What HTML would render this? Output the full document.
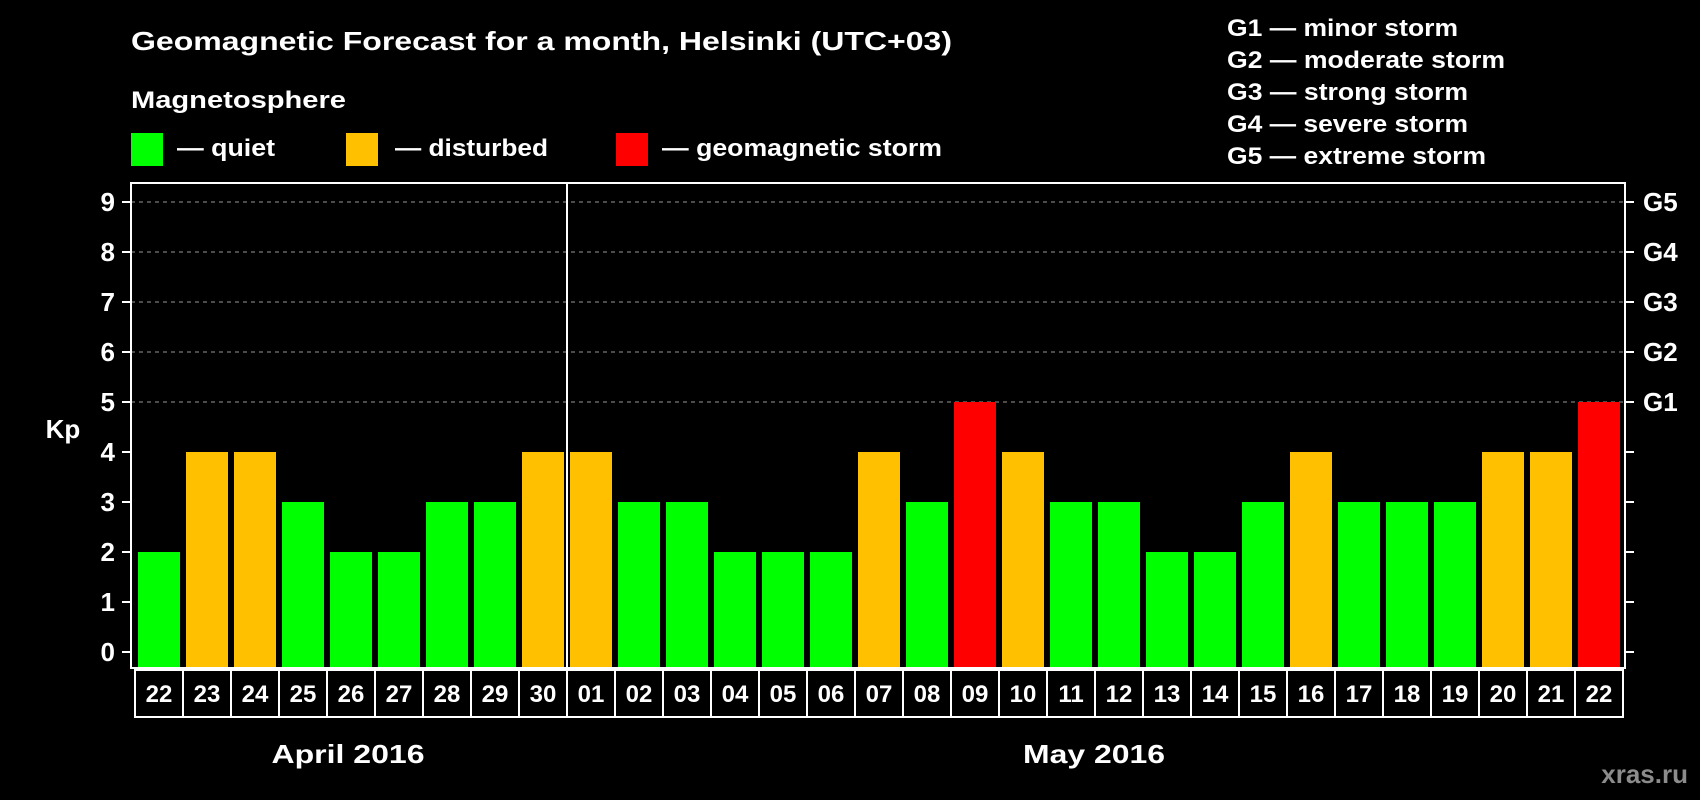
<!DOCTYPE html>
<html><head><meta charset="utf-8"><style>
html,body{margin:0;padding:0;background:#000;}
svg{display:block;font-family:"Liberation Sans",Arial,sans-serif;font-weight:bold;}
</style></head><body>
<svg id="chart" width="1700" height="800" viewBox="0 0 1700 800">
<rect width="1700" height="800" fill="#000"/>
<text x="131" y="50" fill="#fff" font-size="26" textLength="821" lengthAdjust="spacingAndGlyphs">Geomagnetic Forecast for a month, Helsinki (UTC+03)</text>
<text x="131" y="108" fill="#fff" font-size="24" textLength="215" lengthAdjust="spacingAndGlyphs">Magnetosphere</text>
<g><rect x="131" y="133" width="32" height="33" fill="#00ff00"/><text x="177" y="156" fill="#fff" font-size="24" textLength="98" lengthAdjust="spacingAndGlyphs">— quiet</text></g>
<g><rect x="346" y="133" width="32" height="33" fill="#ffc000"/><text x="395" y="156" fill="#fff" font-size="24" textLength="153" lengthAdjust="spacingAndGlyphs">— disturbed</text></g>
<g><rect x="616" y="133" width="32" height="33" fill="#ff0000"/><text x="662" y="156" fill="#fff" font-size="24" textLength="280" lengthAdjust="spacingAndGlyphs">— geomagnetic storm</text></g>
<g fill="#fff" font-size="24">
<text x="1227" y="36" textLength="231" lengthAdjust="spacingAndGlyphs">G1 — minor storm</text>
<text x="1227" y="68" textLength="278" lengthAdjust="spacingAndGlyphs">G2 — moderate storm</text>
<text x="1227" y="100" textLength="241" lengthAdjust="spacingAndGlyphs">G3 — strong storm</text>
<text x="1227" y="132" textLength="241" lengthAdjust="spacingAndGlyphs">G4 — severe storm</text>
<text x="1227" y="164" textLength="259" lengthAdjust="spacingAndGlyphs">G5 — extreme storm</text>
</g>
<text x="63" y="438" fill="#fff" font-size="26" text-anchor="middle">Kp</text>
<text x="348" y="763" fill="#fff" font-size="26" text-anchor="middle" textLength="153" lengthAdjust="spacingAndGlyphs">April 2016</text>
<text x="1094" y="763" fill="#fff" font-size="26" text-anchor="middle" textLength="142" lengthAdjust="spacingAndGlyphs">May 2016</text>
<text x="1688" y="783" fill="#8c8c8c" font-size="26" text-anchor="end">xras.ru</text>
<g id="grid"></g><g id="bars"></g><g id="axes"></g><g id="labels"></g>
</svg>
<script>
const days = ["22","23","24","25","26","27","28","29","30","01","02","03","04","05","06","07","08","09","10","11","12","13","14","15","16","17","18","19","20","21","22"];
const kpValues = [2,4,4,3,2,2,3,3,4,4,3,3,2,2,2,4,3,5,4,3,3,2,2,3,4,3,3,3,4,4,5];
const yTicks = [0,1,2,3,4,5,6,7,8,9];
const gLabels = ["G1","G2","G3","G4","G5"];
const gLevels = [5,6,7,8,9];

const NS="http://www.w3.org/2000/svg";
const L=131,R=1625,T=183,B=668,slot=48,x0=159;
const y=v=>652-v*50;
const xc=i=>x0+i*slot;
function mk(tag,attrs,parent){const e=document.createElementNS(NS,tag);for(const k in attrs)e.setAttribute(k,attrs[k]);parent.appendChild(e);return e;}
const grid=document.getElementById('grid'),bars=document.getElementById('bars'),axes=document.getElementById('axes'),labels=document.getElementById('labels');
gLevels.forEach((g,i)=>{
  const ln=mk('line',{x1:L,x2:R,y1:y(g),y2:y(g),stroke:'#999','stroke-dasharray':'4 4','stroke-width':1},grid);
  
  
  const t=mk('text',{x:1643,y:y(g)+9,fill:'#fff','font-size':26},axes);
  t.textContent=gLabels[i];
  
  
});
kpValues.forEach((v,i)=>{
  const c=v>=5?'#ff0000':(v>=4?'#ffc000':'#00ff00');
  const r=mk('rect',{x:xc(i)-21,y:y(v),width:42,height:B-y(v),fill:c},bars);
  
  
});
const fr=mk('rect',{x:L,y:T,width:R-L,height:B-T,fill:'none',stroke:'#fff','stroke-width':2},axes);


const dv=mk('line',{x1:567,x2:567,y1:T,y2:B,stroke:'#fff','stroke-width':2},axes);


yTicks.forEach(v=>{
  mk('line',{x1:122,x2:L,y1:y(v),y2:y(v),stroke:'#fff','stroke-width':2},axes);
  mk('line',{x1:R,x2:1634,y1:y(v),y2:y(v),stroke:'#fff','stroke-width':2},axes);
  const t=mk('text',{x:115,y:y(v)+9,fill:'#fff','font-size':26,'text-anchor':'end'},axes);
  t.textContent=v;
  
  
});
days.forEach((d,i)=>{
  const cell=mk('rect',{x:xc(i)-24,y:670,width:48,height:47,fill:'#000',stroke:'#fff','stroke-width':2},labels);
  
  
  const t=mk('text',{x:xc(i),y:702,fill:'#fff','font-size':24,'text-anchor':'middle'},labels);
  t.textContent=d;
  
  
});
</script>
</body></html>
